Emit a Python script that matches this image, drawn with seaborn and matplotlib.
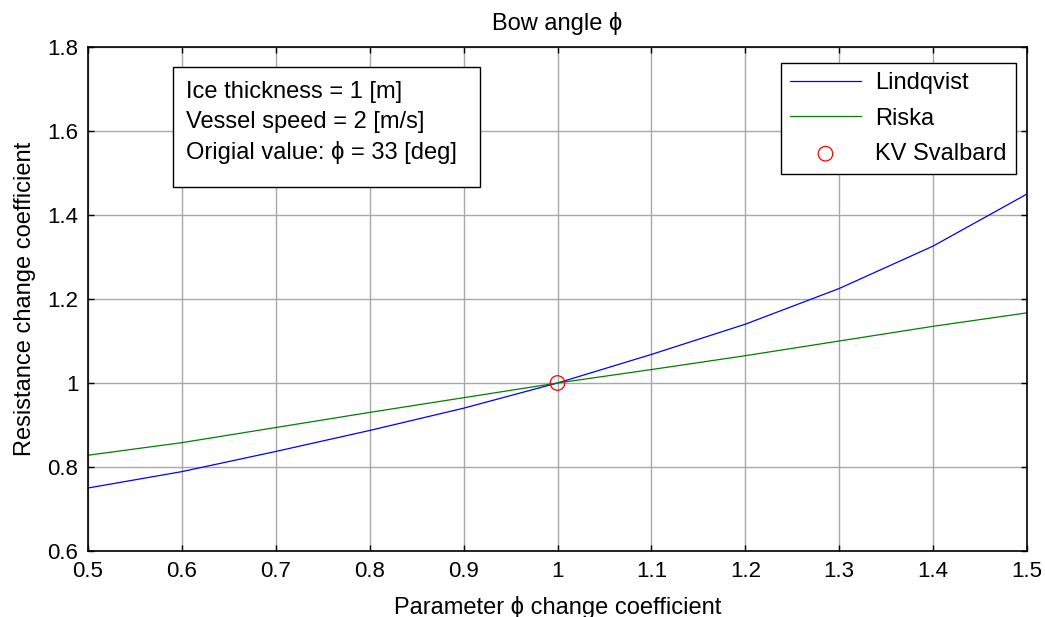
import matplotlib
matplotlib.use("Agg")
import matplotlib.pyplot as plt
from matplotlib.patches import Rectangle
import seaborn as sns
import pandas as pd

x_coef = [0.5, 0.6, 0.7, 0.8, 0.9, 1.0, 1.1, 1.2, 1.3, 1.4, 1.5]
lindqvist = [0.750, 0.789, 0.837, 0.887, 0.940, 1.000, 1.068, 1.140, 1.225, 1.326, 1.450]
riska = [0.828, 0.858, 0.894, 0.930, 0.965, 1.000, 1.032, 1.065, 1.100, 1.135, 1.167]
kv_x = [1.0]
kv_y = [1.0]
x_ticks = [0.5, 0.6, 0.7, 0.8, 0.9, 1.0, 1.1, 1.2, 1.3, 1.4, 1.5]
x_ticklabels = ["0.5", "0.6", "0.7", "0.8", "0.9", "1", "1.1", "1.2", "1.3", "1.4", "1.5"]
y_ticks = [0.6, 0.8, 1.0, 1.2, 1.4, 1.6, 1.8]
y_ticklabels = ["0.6", "0.8", "1", "1.2", "1.4", "1.6", "1.8"]

sns.set_style("ticks")
plt.rcParams["font.family"] = ["Liberation Sans", "DejaVu Sans"]
plt.rcParams["xtick.direction"] = "in"
plt.rcParams["ytick.direction"] = "in"
plt.rcParams["text.color"] = "black"
plt.rcParams["axes.labelcolor"] = "black"
plt.rcParams["xtick.color"] = "black"
plt.rcParams["ytick.color"] = "black"

df = pd.DataFrame({"x": x_coef, "Lindqvist": lindqvist, "Riska": riska})

fig = plt.figure(figsize=(10.45, 6.17), dpi=100)
ax = fig.add_axes([88 / 1045, 1 - 551 / 617, (1027 - 88) / 1045, (551 - 47) / 617])

sns.lineplot(data=df, x="x", y="Lindqvist", ax=ax, color="#0000ff", lw=0.9, label="Lindqvist")
sns.lineplot(data=df, x="x", y="Riska", ax=ax, color="#008000", lw=0.9, label="Riska")
sns.scatterplot(x=kv_x, y=kv_y, ax=ax, marker="o", s=110, facecolors="none",
                edgecolors="#ff0000", linewidths=0.9, label="KV Svalbard", zorder=5)

ax.set_xlim(0.5, 1.5)
ax.set_ylim(0.6, 1.8)
ax.set_xticks(x_ticks)
ax.set_xticklabels(x_ticklabels)
ax.set_yticks(y_ticks)
ax.set_yticklabels(y_ticklabels)
ax.tick_params(axis="both", labelsize=16, length=4, width=1, top=True, right=True,
               direction="in", pad=7, colors="black")
ax.grid(True, color="#a8a8a8", lw=1)
for s in ax.spines.values():
    s.set_linewidth(1.2)
    s.set_color("black")

ax.set_xlabel("Parameter ϕ change coefficient", fontsize=17, labelpad=10)
ax.set_ylabel("Resistance change coefficient", fontsize=17, labelpad=8)
ax.set_title("Bow angle ϕ", fontsize=17, pad=12)

leg = ax.legend(loc="upper right", fontsize=17, frameon=True, fancybox=False,
                edgecolor="black", framealpha=1, handlelength=3.0, handletextpad=0.6,
                borderpad=0.4, labelspacing=0.56, borderaxespad=0,
                bbox_to_anchor=((1016 - 88) / 939, (551 - 63) / 504))
leg.get_frame().set_linewidth(1)

box_x0 = (173 - 88) / 939
box_x1 = (480 - 88) / 939
box_y0 = (551 - 187) / 504
box_y1 = (551 - 67) / 504
ax.add_patch(Rectangle((box_x0, box_y0), box_x1 - box_x0, box_y1 - box_y0,
                       transform=ax.transAxes, facecolor="white", edgecolor="black",
                       lw=1, zorder=6))
ax.text((186 - 88) / 939, (551 - 81) / 504,
        "Ice thickness = 1 [m]\nVessel speed = 2 [m/s]\nOrigial value: ϕ = 33 [deg]",
        transform=ax.transAxes, fontsize=17, va="top", ha="left", linespacing=1.46,
        zorder=7)

fig.savefig("out.png", dpi=100)
